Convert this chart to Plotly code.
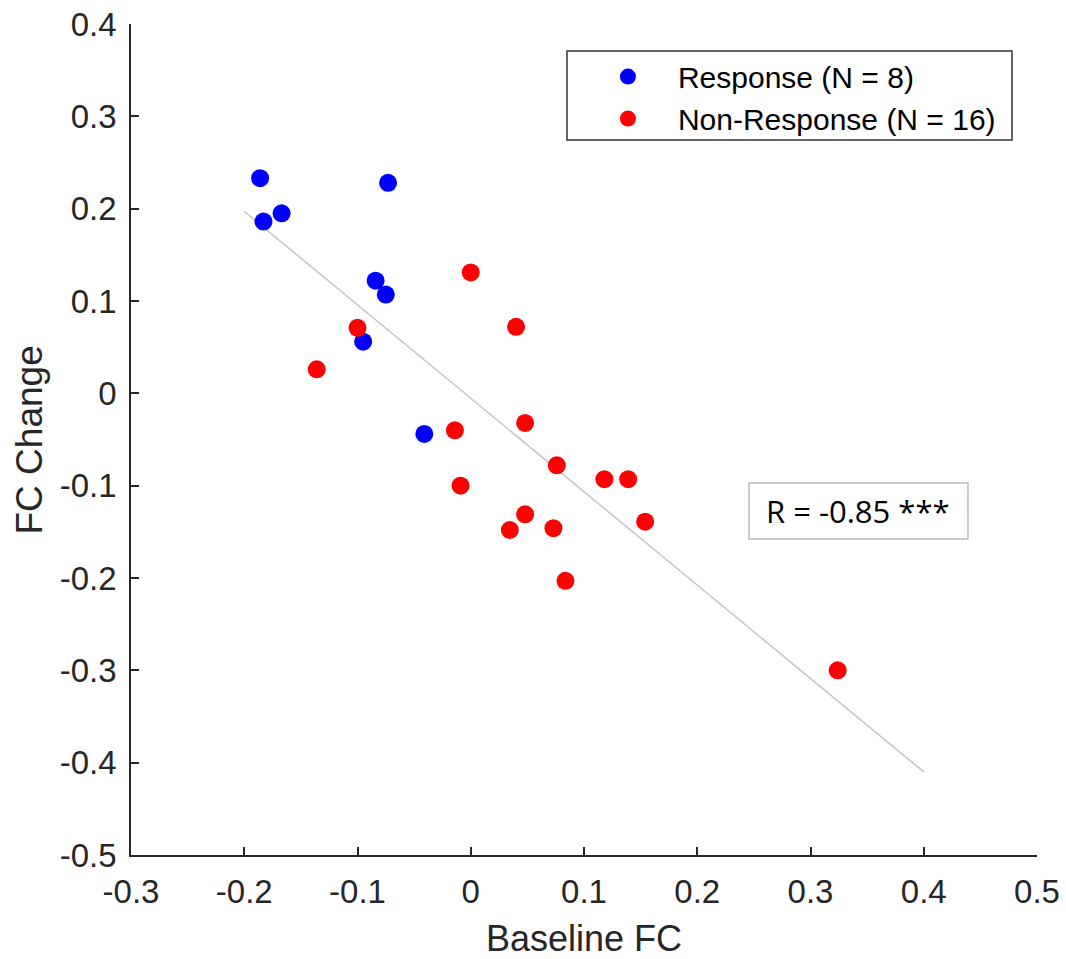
import plotly.graph_objects as go

# ---- data ----
resp_x = [-0.186, -0.183, -0.167, -0.073, -0.084, -0.075, -0.095, -0.041]
resp_y = [0.233, 0.186, 0.195, 0.228, 0.122, 0.107, 0.056, -0.044]

nonresp_x = [0.000, 0.040, -0.100, -0.136, 0.048, -0.014, 0.076, 0.118,
             0.139, -0.009, 0.048, 0.154, 0.0345, 0.073, 0.0836, 0.324]
nonresp_y = [0.131, 0.072, 0.071, 0.026, -0.032, -0.040, -0.078, -0.093,
             -0.093, -0.100, -0.131, -0.139, -0.148, -0.146, -0.203, -0.300]

fit_x = [-0.2, 0.4]
fit_y = [0.197, -0.410]

x_ticks = [-0.3, -0.2, -0.1, 0, 0.1, 0.2, 0.3, 0.4, 0.5]
x_ticktext = ["-0.3", "-0.2", "-0.1", "0", "0.1", "0.2", "0.3", "0.4", "0.5"]
y_ticks = [-0.5, -0.4, -0.3, -0.2, -0.1, 0, 0.1, 0.2, 0.3, 0.4]
y_ticktext = ["-0.5", "-0.4", "-0.3", "-0.2", "-0.1", "0", "0.1", "0.2", "0.3", "0.4"]

resp_label = "Response (N = 8)"
nonresp_label = "Non-Response (N = 16)"
r_label = "R = -0.85 ***"
x_title = "Baseline FC"
y_title = "FC Change"

AX = "#262626"
FONT = "Liberation Sans, Arial, sans-serif"

fig = go.Figure()
fig.add_trace(go.Scatter(x=fit_x, y=fit_y, mode="lines",
                         line=dict(color="#c4c4c4", width=1.5),
                         showlegend=False, hoverinfo="skip"))
fig.add_trace(go.Scatter(x=resp_x, y=resp_y, mode="markers", name=resp_label,
                         marker=dict(color="#0000ff", size=18)))
fig.add_trace(go.Scatter(x=nonresp_x, y=nonresp_y, mode="markers", name=nonresp_label,
                         marker=dict(color="#ff0000", size=18)))

axis_common = dict(showline=True, linecolor=AX, linewidth=1.5, mirror=False,
                   ticks="inside", ticklen=8, tickwidth=1.5, tickcolor=AX,
                   showgrid=False, zeroline=False, automargin=False,
                   ticklabeloverflow="allow",
                   tickfont=dict(family=FONT, size=33, color=AX))

fig.update_xaxes(range=[-0.3, 0.5], tickvals=x_ticks, ticktext=x_ticktext,
                 ticklabelstandoff=7, **axis_common)
fig.update_yaxes(range=[-0.5, 0.4], tickvals=y_ticks, ticktext=y_ticktext,
                 ticklabelstandoff=6, **axis_common)

# axis titles
fig.add_annotation(text=x_title, xref="paper", yref="paper", x=0.5, y=-0.0999,
                   showarrow=False, xanchor="center", yanchor="middle",
                   font=dict(family=FONT, size=36, color=AX))
fig.add_annotation(text=y_title, xref="paper", yref="paper", x=-0.1115, y=0.5,
                   showarrow=False, xanchor="center", yanchor="middle", textangle=-90,
                   font=dict(family=FONT, size=37, color=AX))

# legend box and R box
fig.add_shape(type="rect", xref="paper", yref="paper",
              x0=0.4812, x1=0.9724, y0=0.8604, y1=0.9675,
              line=dict(color="#333333", width=1.5), fillcolor="rgba(0,0,0,0)")
fig.add_shape(type="rect", xref="paper", yref="paper",
              x0=0.6821, x1=0.9238, y0=0.3803, y1=0.4477,
              line=dict(color="#bbbbbb", width=1.5), fillcolor="white", layer="below")
fig.add_annotation(text=r_label, xref="paper", yref="paper", x=0.8024, y=0.4140,
                   showarrow=False, xanchor="center", yanchor="middle",
                   font=dict(family="Open Sans, Noto Sans, sans-serif", size=31, color="#000000"))

fig.update_layout(
    width=1066, height=959,
    margin=dict(l=131, r=29, t=24, b=104, autoexpand=False),
    paper_bgcolor="white", plot_bgcolor="white",
    legend=dict(x=0.4933, y=0.968, xanchor="left", yanchor="top",
                bgcolor="rgba(0,0,0,0)", borderwidth=0,
                itemwidth=90, tracegroupgap=0,
                font=dict(family=FONT, size=30, color="#000000")),
)

fig.write_html("out.html",
               config={"displayModeBar": False},
               post_script="document.body.style.margin='0';document.body.style.overflow='hidden';")
